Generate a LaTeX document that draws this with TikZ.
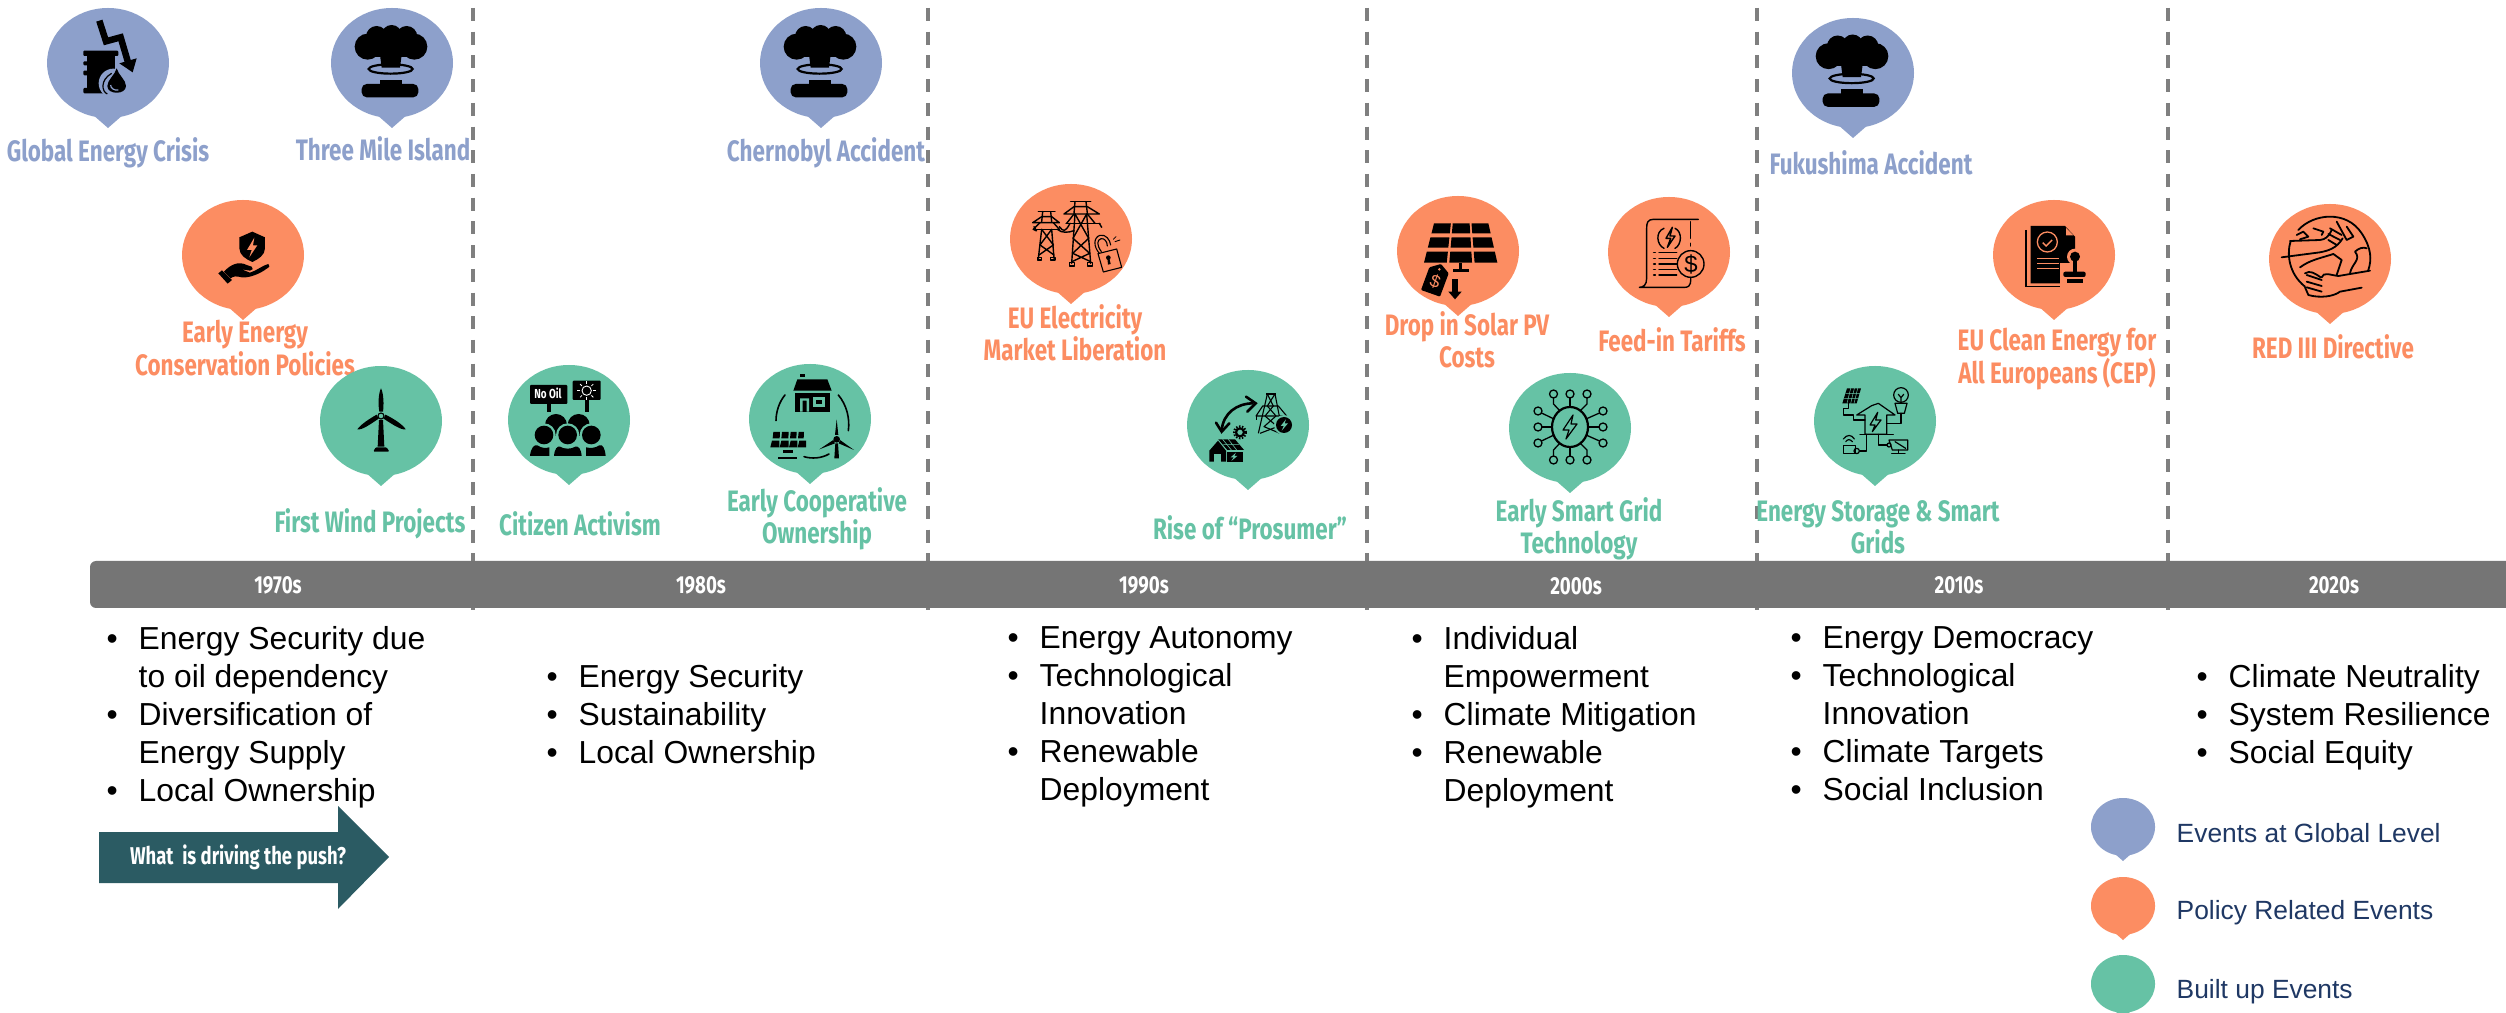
\documentclass[tikz,border=0pt]{standalone}
\usepackage{fontspec}
\setmainfont{Liberation Sans}
\newfontfamily\fira[FakeStretch=0.76]{Fira Sans}
\definecolor{cblue}{HTML}{8DA0CB}
\definecolor{corange}{HTML}{FC8D62}
\definecolor{cgreen}{HTML}{66C2A5}
\definecolor{cbar}{HTML}{757575}
\definecolor{cdash}{HTML}{7F7F7F}
\definecolor{carrow}{HTML}{2B5B63}
\definecolor{cnavy}{HTML}{1F3864}
\newdimen\pxu \pxu=0.2845pt
\newdimen\bw \bw=9.1pt
\tikzset{
  lbl/.style={font=\fira\bfseries\fontsize{8.4pt}{9.2pt}\selectfont,align=center,inner sep=0pt,outer sep=0pt},
  decade/.style={font=\fira\bfseries\fontsize{7pt}{8pt}\selectfont,text=white,inner sep=0pt},
  drivers/.style={font=\fontsize{9.05pt}{10.81pt}\selectfont,anchor=north west,inner sep=0pt},
  legendtext/.style={font=\fontsize{7.5pt}{9pt}\selectfont,text=cnavy,anchor=west,inner sep=0pt},
  sep/.style={draw=cdash,line width=3.3\pxu,dash pattern=on 13\pxu off 10.7\pxu},
  ln/.style={line width=1.4\pxu,line cap=round,line join=round},
  lnb/.style={line width=2.2\pxu,line cap=round,line join=round},
}
\newcommand\bub[4]{\begin{scope}[shift={(#2,#3)},scale=#4]
  \fill[#1] (0,55) ellipse [x radius=61,y radius=55];
  \fill[#1] (-16,106)--(0,120)--(16,106)--cycle;
\end{scope}}
\newcommand\bi[1]{\noindent\hangindent=\bw\hangafter=1 \hbox to \bw{\textbullet\hfil}#1\par}
\newcommand\blist[1]{\parbox[t]{115pt}{\parindent=0pt #1}}
\newcommand\nuke[2]{\begin{scope}[shift={(#1,#2)},scale=1/3]
  \fill (1103,140) circle [radius=39];
  \fill (1243,140) circle [radius=39];
  \fill (1130,110) circle [radius=32];
  \fill (1175,105) circle [radius=30];
  \fill (1220,110) circle [radius=32];
  \fill (1110,110) rectangle (1235,170);
  \fill (1140,165)--(1205,165)--(1200,203)--(1145,203)--cycle;
  \draw[line width=2.2\pxu] (1172,207) ellipse [x radius=66,y radius=14];
  \fill (1140,240) rectangle (1205,262);
  \fill[rounded corners=5\pxu] (1085,252) rectangle (1255,292);
\end{scope}}
\begin{document}
\begin{tikzpicture}[x=0.01cm,y=-0.01cm]
\useasboundingbox (0,0) rectangle (2506,1013);
\clip (0,0) rectangle (2506,1013);
\fill[white] (0,0) rectangle (2506,1013);
% separators
\foreach \sx in {473,928,1367,1757,2168} \draw[sep] (\sx,8) -- (\sx,610);
% bar
\fill[cbar,rounded corners=6\pxu] (2560,561) -- (90,561) -- (90,608) -- (2560,608) -- cycle;
\node[decade] (d70) at (278,585) {1970s};
\node[decade] (d80) at (701,585) {1980s};
\node[decade] (d90) at (1144,585) {1990s};
\node[decade] (d00) at (1576,586) {2000s};
\node[decade] (d10) at (1959,585) {2010s};
\node[decade] (d20) at (2334,585) {2020s};
% labels
\node[lbl,text=cblue] (l1) at (108,153) {Global Energy Crisis};
\node[lbl,text=cblue] (l2) at (383,149) {Three Mile Island};
\node[lbl,text=cblue] (l3) at (826,153) {Chernobyl Accident};
\node[lbl,text=cblue] (l4) at (1871,163) {Fukushima Accident};
\node[lbl,text=corange] (l5) at (245,348) {Early Energy\\Conservation Policies};
\node[lbl,text=corange] (l6) at (1075,333) {EU Electricity\\Market Liberation};
\node[lbl,text=corange] (l7) at (1467,340) {Drop in Solar PV\\Costs};
\node[lbl,text=corange] (l8) at (1672,340) {Feed-in Tariffs};
\node[lbl,text=corange] (l9) at (2057,359) {EU Clean Energy for\\All Europeans (CEP)};
\node[lbl,text=corange] (l10) at (2333,347) {RED III Directive};
\node[lbl,text=cgreen] (l11) at (370,524) {First Wind Projects};
\node[lbl,text=cgreen] (l12) at (580,524) {Citizen Activism};
\node[lbl,text=cgreen] (l13) at (817,519) {Early Cooperative\\Ownership};
\node[lbl,text=cgreen] (l14) at (1250,528) {Rise of “Prosumer”};
\node[lbl,text=cgreen] (l15) at (1579,529) {Early Smart Grid\\Technology};
\node[lbl,text=cgreen] (l16) at (1878,527) {Energy Storage \& Smart\\Grids};
% bubbles
\bub{cblue}{108}{8}{1}
\bub{cblue}{392}{8}{1}
\bub{cblue}{821}{8}{1}
\bub{cblue}{1853}{18}{1}
\bub{corange}{243}{200}{1}
\bub{corange}{1071}{184}{1}
\bub{corange}{1458}{196}{1}
\bub{corange}{1669}{197}{1}
\bub{corange}{2054}{200}{1}
\bub{corange}{2330}{204}{1}
\bub{cgreen}{381}{366}{1}
\bub{cgreen}{569}{365}{1}
\bub{cgreen}{810}{364}{1}
\bub{cgreen}{1248}{370}{1}
\bub{cgreen}{1570}{373}{1}
\bub{cgreen}{1875}{366}{1}
% icons: nuclear
\nuke{0}{0}
\nuke{429}{0}
\nuke{1461}{9.5}
% oil crisis (zoom 1 coordinates)
\begin{scope}[scale=1/3]
  \fill[rounded corners=1\pxu] (250,152) rectangle (355,168);
  \fill (262,168) rectangle (345,272);
  \fill[rounded corners=1\pxu] (250,264) rectangle (340,280);
  \fill[rounded corners=1\pxu] (250,184) rectangle (270,196);
  \fill[rounded corners=1\pxu] (250,212) rectangle (270,226);
  \draw[cblue,line width=9\pxu,line join=miter] (302,62) -- (320,128) -- (365,115) -- (388,195);
  \draw[line width=6.5\pxu,line join=miter] (298,62) -- (318,124) -- (362,112) -- (385,190);
  \fill[cblue] (340,250) circle [radius=44];
  \fill (358,190) -- (410,175) -- (398,217) -- cycle;
  \fill (350,205) .. controls (345,225) and (322,240) .. (322,258) .. controls (322,285) and (378,285) .. (378,258) .. controls (378,240) and (355,225) .. (350,205) -- cycle;
  \draw[line width=1.2\pxu] (335,220) .. controls (300,240) and (305,275) .. (322,282);
  \draw[cblue,line width=1.2\pxu] (332,255) .. controls (332,265) and (342,272) .. (355,270);
\end{scope}
% shield and hand
\begin{scope}[scale=1/3]
  \fill (757,695) -- (795,712) -- (795,745) .. controls (795,765) and (775,778) .. (757,786) .. controls (738,778) and (718,765) .. (718,745) -- (718,712) -- cycle;
  \fill[corange] (763,713) -- (741,750) -- (755,750) -- (748,772) -- (772,736) -- (759,736) -- cycle;
  \fill (672,815) .. controls (690,795) and (715,782) .. (740,795) -- (755,800) .. controls (762,803) and (758,813) .. (750,812) -- (725,808) -- (750,818) .. controls (770,812) and (790,795) .. (805,792) .. controls (812,795) and (808,803) .. (800,806) .. controls (780,822) and (745,835) .. (725,832) .. controls (710,828) and (700,828) .. (692,835) -- cycle;
  \fill (655,820) -- (666,811) -- (696,840) -- (683,851) -- cycle;
\end{scope}
% wind turbine (zoom 2)
\begin{scope}[shift={(200,340)},scale=1/3]
  \fill (543,145) .. controls (551,160) and (552,195) .. (549,215) -- (538,215) .. controls (534,195) and (535,160) .. (543,145) -- cycle;
  \fill (472,268) .. controls (480,255) and (510,235) .. (530,224) -- (536,236) .. controls (515,250) and (485,272) .. (472,268) -- cycle;
  \fill (617,268) .. controls (610,255) and (580,235) .. (556,224) -- (551,236) .. controls (572,250) and (605,272) .. (617,268) -- cycle;
  \draw[line width=1.1\pxu] (543,228) circle [radius=9];
  \fill (537,240) -- (549,240) -- (553,320) -- (533,320) -- cycle;
  \fill[rounded corners=1\pxu] (527,322) -- (560,322) -- (568,335) -- (520,335) -- cycle;
\end{scope}
% citizen activism (zoom 2)
\begin{scope}[shift={(200,340)},scale=1/3]
  \fill[rounded corners=1\pxu] (990,135) rectangle (1102,192);
  \fill (1040,190) rectangle (1052,215);
  \fill[rounded corners=1\pxu] (1118,122) rectangle (1202,180);
  \fill (1154,178) rectangle (1166,215);
  \node[font=\fira\bfseries\fontsize{3.7pt}{4pt}\selectfont,text=white,inner sep=0pt] (noil) at (1044,159) {No Oil};
  \draw[white,line width=.9\pxu] (1160,152) circle [radius=14];
  \foreach \a in {0,45,...,315} \draw[white,line width=.8\pxu] (1160,152) ++(\a:20) -- ++(\a:8);
  \fill (1068,255) circle [radius=33];
  \fill (1136,255) circle [radius=33];
  \foreach \hx in {1032,1103,1174} {
    \fill[cgreen] (\hx,285) circle [radius=35];
    \fill (\hx,285) circle [radius=28];
  }
  \fill[cgreen] (985,314) rectangle (1222,350);
  \fill (990,348) .. controls (992,325) and (1003,312) .. (1012,316) .. controls (1025,325) and (1038,325) .. (1048,322) -- (1048,348) -- cycle;
  \fill (1062,348) .. controls (1064,325) and (1072,318) .. (1080,320) .. controls (1092,328) and (1114,328) .. (1126,320) .. controls (1135,318) and (1143,325) .. (1145,348) -- cycle;
  \fill (1158,348) -- (1158,322) .. controls (1170,325) and (1185,325) .. (1198,316) .. controls (1208,312) and (1215,325) .. (1217,348) -- cycle;
\end{scope}
% cooperative (zoom 9)
\begin{scope}[shift={(740,360)},scale=1/3]
  \fill (180,41) rectangle (195,50);
  \fill (172,58) -- (262,58) -- (275,92) -- (160,92) -- cycle;
  \fill (165,100) rectangle (270,155);
  \fill[cgreen] (180,155) -- (180,115) -- (207,115) -- (207,155) -- (200,155) -- (200,122) -- (188,122) -- (188,155) -- cycle;
  \fill[cgreen] (220,112) rectangle (255,140);
  \fill (229,120) rectangle (246,132);
  \draw[line width=1.6\pxu,line cap=round] (135,105) .. controls (118,125) and (108,155) .. (108,182);
  \draw[line width=1.6\pxu,line cap=round] (295,105) .. controls (320,135) and (330,175) .. (325,212);
  \draw[line width=1.6\pxu,line cap=round] (192,290) .. controls (215,297) and (245,295) .. (267,282);
  \foreach \xa/\xb in {100/120,126/146,152/170,176/192} \fill (\xa,216) -- (\xb,216) -- (\xb-1,235) -- (\xa-2,235) -- cycle;
  \foreach \xa/\xb in {96/118,124/146,152/172,178/198} \fill (\xa,242) -- (\xb,242) -- (\xb,262) -- (\xa-5,262) -- cycle;
  \fill (130,270) rectangle (160,278);
  \fill (115,290) rectangle (172,298);
  \fill (290,238) circle [radius=10];
  \fill (290,178) -- (295,225) -- (285,225) -- cycle;
  \fill (238,268) -- (280,240) -- (285,250) -- cycle;
  \fill (342,270) -- (296,250) -- (300,240) -- cycle;
  \fill (286,250) -- (294,250) -- (297,295) -- (283,295) -- cycle;
\end{scope}
% EU towers (zoom 10)
\begin{scope}[shift={(1000,190)},scale=1/3]
  \begin{scope}[ln]
    \draw (115,65) -- (165,65);
    \draw (128,65) -- (125,95) (152,65) -- (155,95);
    \draw (98,98) -- (125,80) -- (155,80) -- (178,98) -- cycle;
    \draw (100,118) -- (120,98) (178,118) -- (160,98);
    \draw (100,118) -- (178,118);
    \draw (125,118) -- (115,205) (155,118) -- (162,205);
    \draw (125,118) -- (160,165) -- (117,195) (155,118) -- (120,165) -- (162,195);
    \draw (112,203) rectangle (124,210) (152,203) rectangle (165,210);
    \draw (212,35) -- (272,35);
    \draw (225,35) -- (222,70) (258,35) -- (262,70);
    \draw (192,72) -- (222,50) -- (262,50) -- (298,72) -- cycle;
    \draw (200,100) -- (222,72) (285,100) -- (262,72);
    \draw (198,100) -- (300,100);
    \draw (225,72) -- (215,220) (260,72) -- (272,220);
    \draw (225,72) -- (266,145) -- (218,190) -- (272,215) (260,72) -- (219,145) -- (269,190) -- (216,215);
    \draw (208,218) rectangle (224,228) (262,218) rectangle (278,228);
    \draw (102,110) .. controls (110,125) and (115,125) .. (100,118);
    \draw (178,110) .. controls (190,125) and (195,128) .. (210,100);
    \draw (172,118) .. controls (185,130) and (205,128) .. (222,122);
    \draw (298,100) -- (305,112);
    % lock
    \draw[line width=1.1\pxu] (294,191) -- (350,177) -- (365,232) -- (310,246) -- cycle;
    \fill (325,203) circle [radius=7];
    \fill (322,205) -- (328,205) -- (332,222) -- (324,224) -- cycle;
    \draw[line width=1.1\pxu] (298,190) .. controls (280,170) and (280,142) .. (300,136) .. controls (318,132) and (330,150) .. (332,165);
    \draw[line width=1.1\pxu] (304,185) .. controls (290,165) and (290,150) .. (303,146) .. controls (313,144) and (322,155) .. (322,168);
    \draw[line width=.8\pxu] (340,148) -- (348,140) (345,155) -- (360,150);
  \end{scope}
\end{scope}
% prosumer (zoom 11)
\begin{scope}[shift={(1190,380)},scale=1/3]
  \draw[line width=2.6\pxu] (190,70) .. controls (140,70) and (100,100) .. (95,150);
  \draw[line width=2.6\pxu,line cap=round] (168,50) -- (197,70) -- (172,95);
  \draw[line width=2.6\pxu,line cap=round] (78,128) -- (95,155) -- (118,130);
  \draw[line width=2.2\pxu] (150,157) circle [radius=12];
  \draw[line width=2\pxu,dash pattern=on 1.5\pxu off 1.5\pxu] (150,157) circle [radius=18];
  \fill (58,245) -- (58,212) -- (84,182) -- (108,212) -- (108,245) -- cycle;
  \fill[cgreen] (72,222) rectangle (92,245);
  \fill (85,178) -- (135,178) -- (162,210) -- (112,210) -- cycle;
  \draw[cgreen,line width=.6\pxu] (98,178) -- (124,210) (115,178) -- (140,210) (100,194) -- (148,194);
  \fill (110,215) rectangle (160,245);
  \fill[cgreen] (138,218) -- (122,232) -- (131,232) -- (124,243) -- (142,228) -- (133,228) -- cycle;
  \begin{scope}[line width=1.1\pxu,line join=round]
    \draw (228,42) -- (258,42);
    \draw (232,42) -- (205,160) (255,42) -- (278,160);
    \draw (198,108) -- (218,78) -- (265,78) -- (290,108) -- cycle;
    \draw (232,42) -- (250,78) -- (225,108) -- (262,140) -- (210,160);
    \draw (255,42) -- (232,78) -- (258,108) -- (222,140) -- (270,160);
    \draw (200,108) -- (200,120) (288,108) -- (288,120);
  \end{scope}
  \fill[cgreen] (282,135) circle [radius=30];
  \fill (282,135) circle [radius=24];
  \fill[cgreen] (288,118) -- (272,138) -- (281,138) -- (275,152) -- (294,130) -- (284,130) -- cycle;
\end{scope}
% solar panel (zoom 8)
\begin{scope}[shift={(1360,180)},scale=1/3]
  \foreach \ya/\yb in {130/160,172/203,215/248} {
    \foreach \ua/\ub in {0/.31,.345/.655,.69/1} {
      \pgfmathsetmacro\lA{222-30*(\ya-130)/118}
      \pgfmathsetmacro\rA{385+27*(\ya-130)/118}
      \pgfmathsetmacro\lB{222-30*(\yb-130)/118}
      \pgfmathsetmacro\rB{385+27*(\yb-130)/118}
      \fill ({\lA+\ua*(\rA-\lA)},\ya) -- ({\lA+\ub*(\rA-\lA)},\ya) -- ({\lB+\ub*(\rB-\lB)},\yb) -- ({\lB+\ua*(\rB-\lB)},\yb) -- cycle;
    }
  }
  \fill (297,248) rectangle (307,268);
  \fill (278,268) rectangle (328,277);
  \fill[rounded corners=1\pxu] (243,252) -- (266,280) -- (240,350) -- (183,330) -- (208,262) -- cycle;
  \fill[corange] (238,268) circle [radius=4];
  \node[font=\fontsize{5pt}{6pt}\selectfont,text=corange,rotate=-20,inner sep=0pt] (tagd) at (226,306) {\$};
  \fill (275,297) rectangle (295,335);
  \fill (265,335) -- (305,335) -- (285,358) -- cycle;
\end{scope}
% feed-in tariff (zoom 8)
\begin{scope}[shift={(1360,180)},scale=1/3]
  \begin{scope}[ln]
    \draw (1015,118) -- (880,118) .. controls (862,118) and (860,130) .. (860,145) -- (860,295) .. controls (860,315) and (850,322) .. (838,322) -- (975,322) .. controls (995,322) and (992,300) .. (992,292);
    \draw (992,125) -- (992,175);
    \draw (992,190) -- (992,198);
    \draw (912,145) .. controls (885,155) and (890,195) .. (912,205);
    \draw (945,145) .. controls (968,155) and (965,195) .. (945,205);
    \draw (937,142) -- (918,175) -- (932,175) -- (922,202) -- (945,168) -- (930,168) -- cycle;
    \foreach \ly in {218,235,252,268,285} {\draw (881,\ly) -- (886,\ly); \draw (897,\ly) -- (950,\ly);}
    \draw (992,252) circle [radius=40];
  \end{scope}
  \node[font=\fontsize{6.8pt}{8pt}\selectfont,inner sep=0pt] (fitd) at (993,253) {\$};
\end{scope}
% smart grid (pixels around the centre)
\begin{scope}[shift={(1570,426)},ln]
  \draw[lnb] (0,1) ellipse [x radius=18,y radius=20];
  \draw[line width=1.2\pxu] (3,-11) -- (-7,4) -- (-1,4) -- (-4,13) -- (7,-2) -- (1,-2) -- cycle;
  \foreach \tx/\ty in {-16.5/-32,0/-32,17/-32,-32/-15,-32/1,-32/17,33/-15,33/1,33/17,-16.5/34,0/34,17/34}
    \draw[line width=1.3\pxu] (\tx,\ty) circle [radius=4];
  \draw[line width=1.3\pxu] (0,-28) -- (0,-19) (0,30) -- (0,21);
  \draw[line width=1.3\pxu] (-28,1) -- (-18,1) (29,1) -- (18,1);
  \draw[line width=1.3\pxu] (-16.5,-28) -- (-16.5,-22) -- (-10,-15);
  \draw[line width=1.3\pxu] (17,-28) -- (17,-22) -- (10,-15);
  \draw[line width=1.3\pxu] (-16.5,30) -- (-16.5,24) -- (-10,17);
  \draw[line width=1.3\pxu] (17,30) -- (17,24) -- (10,17);
  \draw[line width=1.3\pxu] (-28.5,-13) -- (-16,-7);
  \draw[line width=1.3\pxu] (29.5,-13) -- (16,-7);
  \draw[line width=1.3\pxu] (-28.5,15) -- (-16,9);
  \draw[line width=1.3\pxu] (29.5,15) -- (16,9);
\end{scope}
% CEP document (zoom 4)
\begin{scope}[shift={(1700,0)},scale=1/3]
  \draw[line width=1.4\pxu] (978,690) -- (978,860) -- (1108,860);
  \fill (992,678) -- (1095,678) -- (1125,710) -- (1125,850) -- (992,850) -- cycle;
  \fill[corange] (1098,684) -- (1120,706) -- (1098,706) -- cycle;
  \draw[corange,line width=1.3\pxu] (1042,726) circle [radius=30];
  \draw[corange,line width=1.4\pxu] (1028,728) -- (1038,738) -- (1056,720);
  \draw[corange,line width=1.1\pxu] (1012,775) -- (1078,775) (1012,790) -- (1078,790) (1012,806) -- (1078,806);
  \fill[corange] (1125,770) circle [radius=24];
  \fill[corange] (1080,790) rectangle (1165,860);
  \fill (1125,770) circle [radius=15];
  \fill (1118,780) rectangle (1132,815);
  \fill[rounded corners=2\pxu] (1090,815) rectangle (1157,831);
  \fill (1100,838) rectangle (1148,848);
\end{scope}
% storage & smart grids (zoom 12)
\begin{scope}[shift={(1815,375)},scale=1/3]
  \begin{scope}[ln,line width=1.2\pxu]
    \fill (96,40) -- (138,40) -- (125,85) -- (82,85) -- cycle;
    \draw[cgreen,line width=.5\pxu] (107,40) -- (96,85) (118,40) -- (107,85) (128,40) -- (117,85) (92,55) -- (134,55) (88,70) -- (130,70);
    \draw (100,85) -- (100,100) -- (85,100) -- (85,120) -- (115,120) -- (115,135) -- (150,135);
    \draw (258,60) circle [radius=22];
    \draw (250,58) -- (258,68) -- (266,58) (258,68) -- (258,84);
    \draw (240,85) -- (276,85) -- (268,115) -- (248,115) -- cycle;
    \draw (258,115) -- (258,145) -- (215,145);
    \draw (125,120) -- (170,92) -- (190,85) -- (240,120) -- (215,120) -- (215,178) -- (150,178) -- (150,120) -- cycle;
    \draw (188,112) -- (165,150) -- (180,150) -- (172,170) -- (198,135) -- (182,135) -- cycle;
    \draw (135,178) -- (235,178);
    \draw (155,178) -- (155,228) -- (135,228);
    \draw (190,178) -- (190,210) -- (218,210);
    \draw (85,212) rectangle (122,235);
    \draw (125,228) circle [radius=8];
    \draw (85,192) .. controls (95,178) and (110,178) .. (118,192);
    \draw (92,200) .. controls (98,192) and (105,192) .. (112,200);
    \draw (222,210) circle [radius=6];
    \draw (222,195) -- (278,195) -- (278,225) -- (232,225) -- cycle;
    \draw (240,200) -- (272,220);
    \draw (250,225) -- (250,235) (230,235) -- (270,235);
  \end{scope}
\end{scope}
% RED III (zoom 7)
\begin{scope}[shift={(2150,180)},scale=1/3]
  \begin{scope}[ln,line width=1.8\pxu]
    \draw (465,320) .. controls (415,280) and (410,220) .. (422,183);
    \draw (445,150) .. controls (490,100) and (590,90) .. (635,160) .. controls (665,205) and (665,240) .. (655,270);
    \draw (420,183) -- (510,180) .. controls (525,178) and (535,172) .. (545,150);
    \draw (395,232) -- (510,217) .. controls (535,212) and (560,205) .. (578,175);
    \draw (540,145) -- (575,165) (535,162) -- (570,180) (535,180) -- (560,195);
    \draw (440,165) -- (460,155) -- (475,170) -- (450,178);
    \draw (490,145) -- (520,155) -- (515,165);
    \draw (560,125) -- (590,180) -- (610,170) -- (590,140);
    \draw (450,262) .. controls (480,240) and (510,235) .. (550,222) -- (575,240) -- (560,285);
    \draw (600,280) .. controls (605,250) and (635,240) .. (615,215) .. controls (625,205) and (640,200) .. (650,205);
    \draw (660,272) -- (565,288) .. controls (540,285) and (520,275) .. (515,292);
    \draw (635,323) -- (570,335) .. controls (550,350) and (510,355) .. (475,345) -- (465,322);
    \draw (470,285) -- (515,300) (470,305) -- (515,318) (470,322) -- (515,335);
    \draw (465,280) .. controls (480,270) and (495,280) .. (512,292);
  \end{scope}
\end{scope}
% driver lists
\node[drivers] (c1) at (106,626) {\blist{\bi{Energy Security due\\to oil dependency}\bi{Diversification of\\Energy Supply}\bi{Local Ownership}}};
\node[drivers] (c2) at (546,664) {\blist{\bi{Energy Security}\bi{Sustainability}\bi{Local Ownership}}};
\node[drivers] (c3) at (1007,626) {\blist{\bi{Energy Autonomy}\bi{Technological\\Innovation}\bi{Renewable\\Deployment}}};
\node[drivers] (c4) at (1411,626) {\blist{\bi{Individual\\Empowerment}\bi{Climate Mitigation}\bi{Renewable\\Deployment}}};
\node[drivers] (c5) at (1790,626) {\blist{\bi{Energy Democracy}\bi{Technological\\Innovation}\bi{Climate Targets}\bi{Social Inclusion}}};
\node[drivers] (c6) at (2196,664) {\blist{\bi{Climate Neutrality}\bi{System Resilience}\bi{Social Equity}}};
% arrow
\fill[carrow] (99,832) -- (338,832) -- (338,806) -- (389,857) -- (338,909) -- (338,883) -- (99,883) -- cycle;
\node[font=\fira\bfseries\fontsize{6.9pt}{8pt}\selectfont,text=white,inner sep=0pt] (push) at (238,857) {What\ \ is driving the push?};
% legend
\bub{cblue}{2123}{798}{0.525}
\bub{corange}{2123}{877}{0.525}
\bub{cgreen}{2123}{955}{0.525}
\node[legendtext] (lg1) at (2176,833) {Events at Global Level};
\node[legendtext] (lg2) at (2176,913) {Policy Related Events};
\node[legendtext] (lg3) at (2176,992) {Built up Events};
\end{tikzpicture}
\end{document}
